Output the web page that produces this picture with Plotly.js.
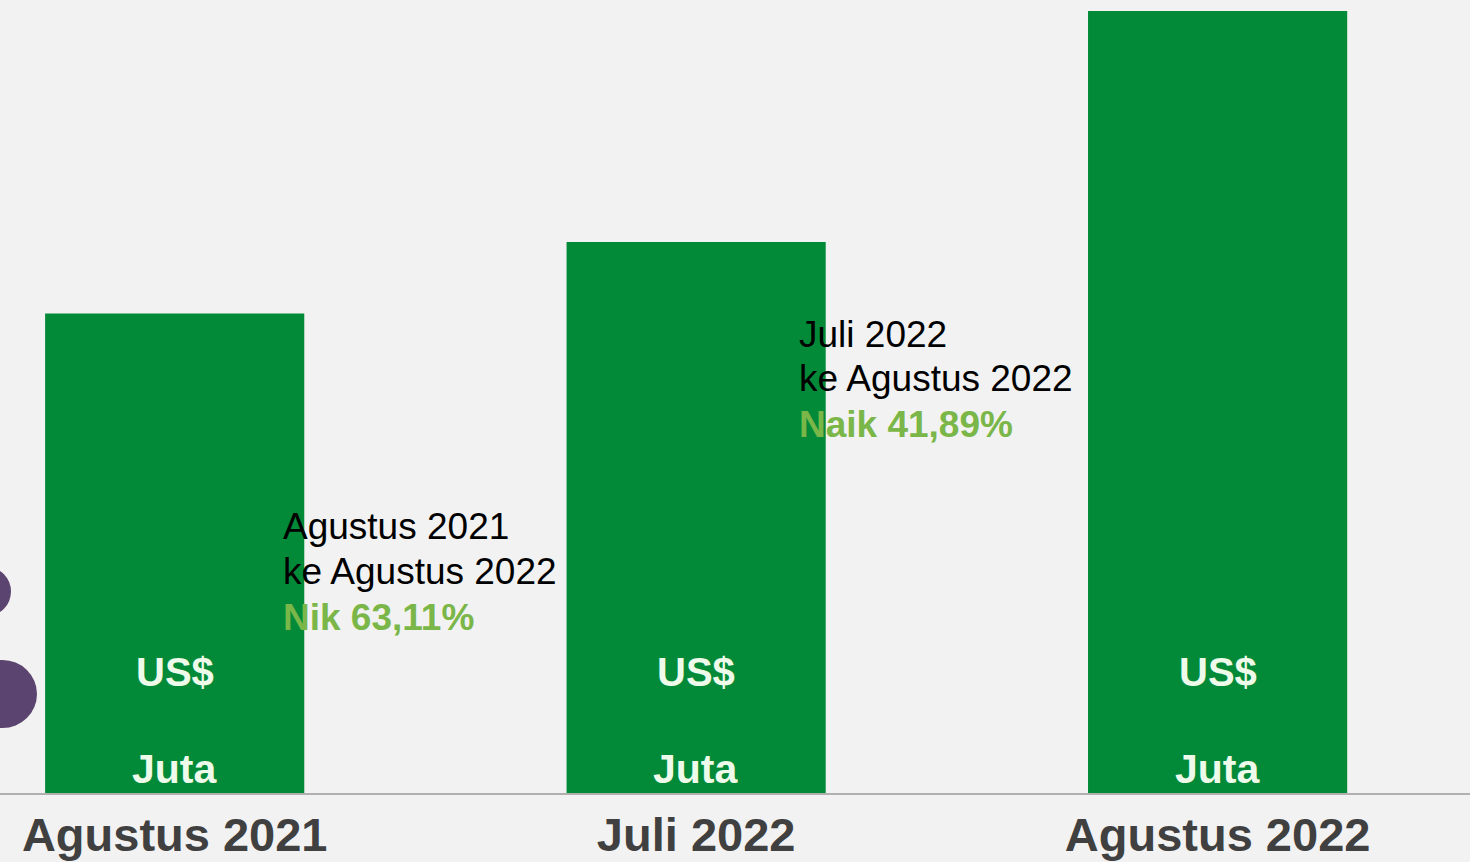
<!DOCTYPE html>
<html>
<head>
<meta charset="utf-8">
<script src="https://cdn.plot.ly/plotly-3.0.1.min.js"></script>
<style>
html,body{margin:0;padding:0;background:#f2f2f2;overflow:hidden;}
#chart{width:1470px;height:862px;}
</style>
</head>
<body>
<div id="chart"></div>
<script>
// Data (values are relative bar heights; the printed numbers are missing in the source)
const categories = ["Agustus 2021", "Juli 2022", "Agustus 2022"];
const values = [479.4, 551.1, 782.0];
const unitTop = "US$";
const unitBottom = "Juta";
const compare1 = ["Agustus 2021", "ke Agustus 2022", "Nik 63,11%"];
const compare2 = ["Juli 2022", "ke Agustus 2022", "Naik 41,89%"];

const W = 1470, PH = 793;
const px = x => x / W;
const py = y => (PH - y) / PH;

const FONT = "Liberation Sans, Arial, sans-serif";
const GREEN = "#038a38";
const LIGHTGREEN = "#7ab648";

const annotations = [];
categories.forEach((c, i) => {
  annotations.push({x: c, xref: "x", y: PH - 672, yref: "y", text: unitTop, showarrow: false,
    font: {family: FONT, size: 40, color: "#eefbea", weight: "bold"}, xanchor: "center", yanchor: "middle"});
  annotations.push({x: c, xref: "x", y: PH - 769, yref: "y", text: unitBottom, showarrow: false,
    font: {family: FONT, size: 41, color: "#eefbea", weight: "bold"}, xanchor: "center", yanchor: "middle"});
});
function block(lines, left, ys) {
  lines.forEach((t, i) => {
    const last = i === lines.length - 1;
    annotations.push({x: px(left), xref: "paper", y: py(ys[i]), yref: "paper", text: t, showarrow: false,
      xanchor: "left", yanchor: "middle",
      font: {family: FONT, size: 37, color: last ? LIGHTGREEN : "#000000", weight: last ? "bold" : "normal"}});
  });
}
block(compare1, 281, [526, 571, 617]);
block(compare2, 797, [334, 378, 424]);

const shapes = [
  {type: "circle", xref: "paper", yref: "paper", x0: px(-37), x1: px(11), y0: py(616), y1: py(567),
   fillcolor: "#5b4470", line: {width: 0}, layer: "above"},
  {type: "circle", xref: "paper", yref: "paper", x0: px(-32), x1: px(37), y0: py(728), y1: py(660),
   fillcolor: "#5b4470", line: {width: 0}, layer: "above"}
];

const trace = {
  type: "bar", x: categories, y: values, width: 0.497,
  marker: {color: GREEN, line: {width: 0}},
  hoverinfo: "skip"
};

const layout = {
  width: 1470, height: 862,
  margin: {l: 0, r: 0, t: 0, b: 69, pad: 0},
  paper_bgcolor: "#f2f2f2", plot_bgcolor: "#f2f2f2",
  showlegend: false,
  xaxis: {
    type: "category", range: [-0.335, 2.484],
    showline: true, linecolor: "#b0b0b0", linewidth: 2,
    showgrid: false, zeroline: false, ticks: "",
    tickfont: {family: FONT, size: 47, color: "#404040", weight: "bold"}
  },
  yaxis: {range: [0, PH], visible: false, showgrid: false, zeroline: false},
  annotations: annotations,
  shapes: shapes
};

Plotly.newPlot("chart", [trace], layout, {displayModeBar: false, staticPlot: true});
</script>
</body>
</html>
